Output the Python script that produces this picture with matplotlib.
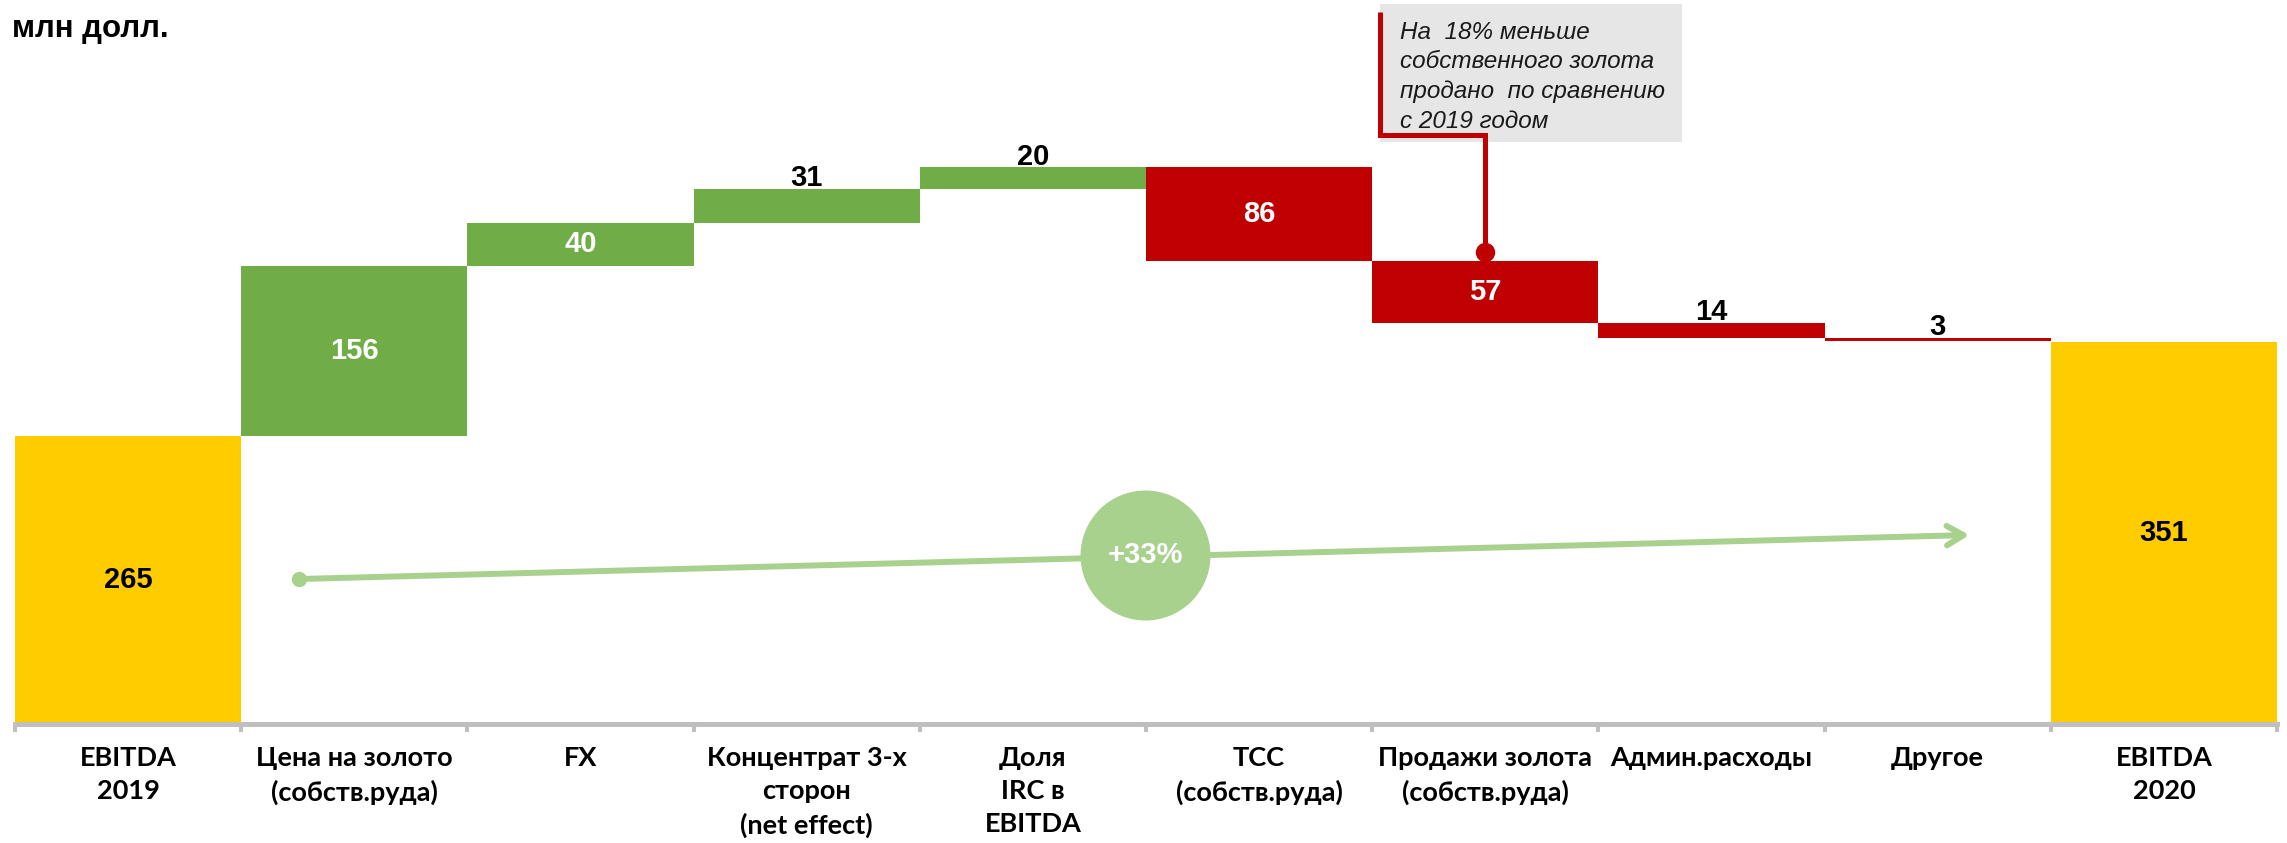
import numpy as np
import matplotlib.pyplot as plt
from matplotlib.patches import Rectangle

# waterfall data, mln USD
categories = ['EBITDA\n2019', 'Цена на золото\n(собств.руда)', 'FX',
              'Концентрат 3-х\nсторон\n(net effect)', 'Доля\nIRC в\nEBITDA',
              'TCC\n(собств.руда)', 'Продажи золота\n(собств.руда)',
              'Админ.расходы', 'Другое', 'EBITDA\n2020']
start_value = 265
deltas = [156, 40, 31, 20, -86, -57, -14, -3]
end_value = 351
growth_label = '+33%'
unit_label = 'млн долл.'
note_text = 'На  18% меньше\nсобственного золота\nпродано  по сравнению\nс 2019 годом'
note_index = 6  # bar the callout points to

GOLD = '#FFCC00'
GREEN = '#70AD47'
RED = '#C00000'
LIGHT_GREEN = '#A9D18E'
AXIS_GRAY = '#BFBFBF'
BOX_GRAY = '#E6E6E6'

NUM_FONT = ['Liberation Sans', 'DejaVu Sans']
CAT_FONT = ['Lato', 'DejaVu Sans']

n = len(categories)
x = np.arange(n)
cum = start_value + np.cumsum(deltas)
prev = np.concatenate([[start_value], cum[:-1]])
bottoms = np.minimum(prev, cum)
heights = np.abs(deltas)
colors = [GREEN if d > 0 else RED for d in deltas]

W, H = 2287, 843
fig = plt.figure(figsize=(W / 100, H / 100), dpi=100)
ax = fig.add_axes([15 / W, (H - 723.5) / H, 2262 / W, 723.5 / H])

ax.bar(x[0], start_value, width=1.0, color=GOLD, zorder=1)
ax.bar(x[1:-1], heights, bottom=bottoms, width=1.0, color=colors, zorder=1)
ax.bar(x[-1], end_value, width=1.0, color=GOLD, zorder=1)

# value labels
ax.text(x[0], start_value / 2, str(start_value), ha='center', va='center',
        fontsize=21, fontweight='bold', family=NUM_FONT, color='black')
ax.text(x[-1], end_value / 2, str(end_value), ha='center', va='center',
        fontsize=21, fontweight='bold', family=NUM_FONT, color='black')
for xi, b, h, d in zip(x[1:-1], bottoms, heights, deltas):
    if h >= 40:
        ax.text(xi, b + h / 2, str(abs(d)), ha='center', va='center',
                fontsize=21, fontweight='bold', family=NUM_FONT, color='white')
    else:
        ax.annotate(str(abs(d)), (xi, b + h), xytext=(0, 2), textcoords='offset points',
                    ha='center', va='baseline', fontsize=21, fontweight='bold',
                    family=NUM_FONT, color='black')

# axis styling
ax.set_xlim(-0.5, n - 0.5)
ax.set_ylim(0, 666)
for s in ['left', 'right', 'top']:
    ax.spines[s].set_visible(False)
ax.spines['bottom'].set_color(AXIS_GRAY)
ax.spines['bottom'].set_linewidth(3.6)
ax.set_yticks([])
ax.set_xticks(x)
ax.set_xticklabels(categories, fontsize=19.5, fontweight='bold', linespacing=1.45)
for lbl in ax.get_xticklabels():
    lbl.set_family(CAT_FONT)
ax.set_xticks(np.arange(-0.5, n, 1.0), minor=True)
ax.tick_params(axis='x', which='major', length=0, pad=16)
ax.tick_params(axis='x', which='minor', length=6, width=2.9, color=AXIS_GRAY)

# growth arrow with circle
ax.annotate('', xy=(8.14, 173.5), xytext=(0.756, 133),
            arrowprops=dict(arrowstyle='->,head_length=1.2,head_width=0.7',
                            color=LIGHT_GREEN, lw=4.3, shrinkA=0, shrinkB=0,
                            capstyle='round', joinstyle='round'), zorder=3)
ax.plot(0.756, 133, 'o', ms=10, color=LIGHT_GREEN, zorder=3)
ax.scatter([4.496], [155], s=8760, color=LIGHT_GREEN, linewidths=0, zorder=4)
ax.text(4.496, 155, growth_label, ha='center', va='center', fontsize=21,
        fontweight='bold', family=NUM_FONT, color='white', zorder=5)

# callout box
box = Rectangle((5.534, 535), 1.336, 127, facecolor=BOX_GRAY, edgecolor='none',
                zorder=2, clip_on=False)
ax.add_patch(box)
dot_y = prev[note_index - 1] + 8
ax.plot([5.534, 5.534, note_index, note_index], [654.6, 541.4, 541.4, dot_y],
        color=RED, lw=3.6, solid_joinstyle='miter', solid_capstyle='butt',
        clip_on=False, zorder=3)
ax.plot(note_index, dot_y, 'o', ms=13, color=RED, zorder=3)
ax.text(5.623, 647, note_text, ha='left', va='top', fontsize=17.5, style='italic',
        family=NUM_FONT, linespacing=1.38, color='#1a1a1a', zorder=4)

fig.text(12 / W, 1 - 37 / H, unit_label, ha='left', va='baseline', fontsize=22.5,
         fontweight='bold', family=NUM_FONT)

fig.savefig('out.png', dpi=100)
